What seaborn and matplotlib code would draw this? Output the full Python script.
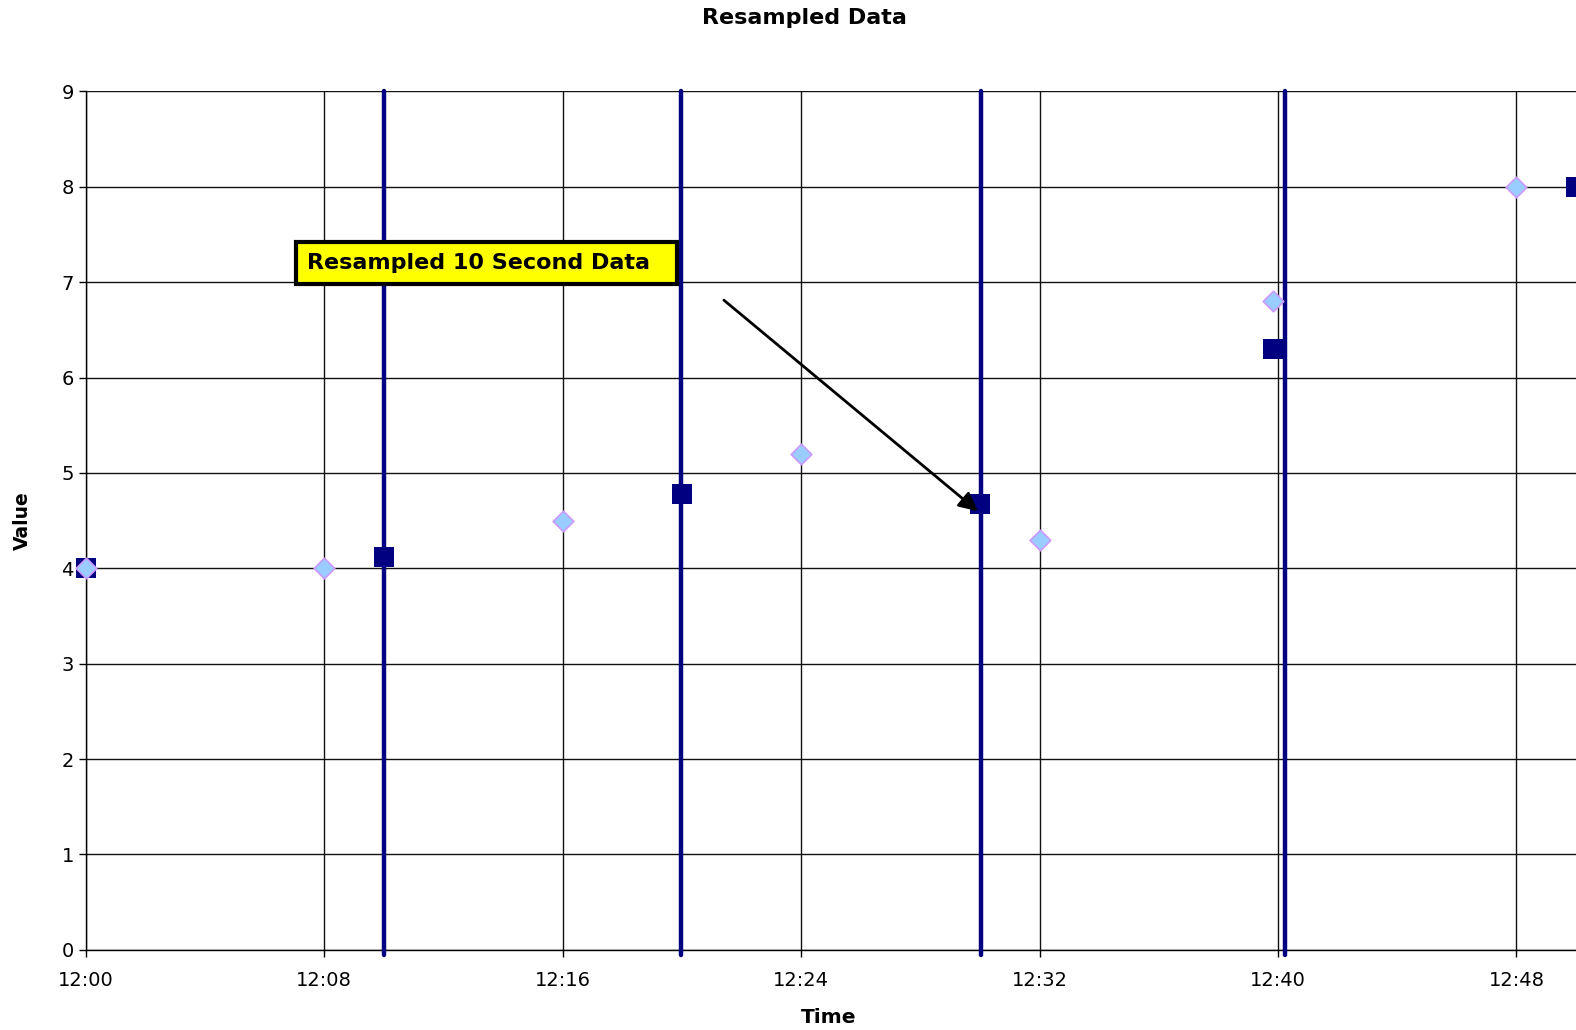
import pandas as pd
import numpy as np
import matplotlib.pyplot as plt
import seaborn as sns

sns.set_style('white')
plt.rcParams['font.family'] = ['DejaVu Sans']
plt.rcParams['text.color'] = 'black'
plt.rcParams['axes.labelcolor'] = 'black'
plt.rcParams['xtick.color'] = 'black'
plt.rcParams['ytick.color'] = 'black'

# data: minutes after 12:00
raw_min = [0, 8, 16, 24, 32, 39.85, 48]
raw_val = [4.0, 4.0, 4.5, 5.2, 4.3, 6.8, 8.0]
res_min = [0, 10, 20, 30, 39.85, 50]
res_val = [4.0, 4.12, 4.78, 4.67, 6.30, 8.0]
line_min = [10.0, 19.97, 30.05, 40.25]
tick_min = [0, 8, 16, 24, 32, 40, 48]
tick_lab = ['12:00', '12:08', '12:16', '12:24', '12:32', '12:40', '12:48']
y_ticks = [0, 1, 2, 3, 4, 5, 6, 7, 8, 9]

raw = pd.DataFrame({'t': raw_min, 'v': raw_val})
res = pd.DataFrame({'t': res_min, 'v': res_val})

fig = plt.figure(figsize=(15.76, 10.30), dpi=100)
ax = fig.add_axes([0.0544, 0.0779, 0.9456, 0.8333])

ax.grid(True, color='#111111', lw=1)
ax.set_axisbelow(True)

sns.scatterplot(data=res, x='t', y='v', marker='s', s=200, color='#000080',
                edgecolor='#000080', linewidth=0, zorder=3, clip_on=False, ax=ax)
ax.vlines(line_min, -0.05, 9, colors='#000080', lw=3.2, zorder=4,
          clip_on=False, capstyle='round')
sns.scatterplot(data=raw, x='t', y='v', marker='D', s=110, color='#99CCFF',
                edgecolor='#CC99FF', linewidth=1.2, zorder=5, clip_on=False, ax=ax)

ax.set_xlim(0, 50)
ax.set_ylim(0, 9)
ax.set_xticks(tick_min)
ax.set_xticklabels(tick_lab)
ax.set_yticks(y_ticks)
ax.tick_params(axis='both', labelsize=14, length=5, width=1, color='black',
               labelcolor='black', direction='out', bottom=True, left=True)
ax.tick_params(axis='x', pad=10)
for s in ['top', 'right']:
    ax.spines[s].set_visible(False)
for s in ['left', 'bottom']:
    ax.spines[s].set_color('black')
    ax.spines[s].set_linewidth(1)

ax.set_xlabel('Time', fontsize=14.5, fontweight='bold')
ax.set_ylabel('Value', fontsize=13.5, fontweight='bold')
ax.xaxis.label.set_va('center')
ax.yaxis.label.set_va('center')
ax.xaxis.set_label_coords(0.4988, -0.0795)
ax.yaxis.set_label_coords(-0.0427, 0.5)
fig.text(0.5106, 0.983, 'Resampled Data', ha='center', va='center',
         fontsize=16, fontweight='bold', color='black')

ax.text(7.44, 7.20, 'Resampled 10 Second Data  ', fontsize=16, fontweight='bold',
        ha='left', va='center', zorder=6, color='black',
        bbox=dict(boxstyle='square,pad=0.5', fc='yellow', ec='black', lw=3))
ax.annotate('', xy=(30.0, 4.58), xytext=(21.34, 6.83),
            arrowprops=dict(arrowstyle='-|>', color='black', lw=2,
                            mutation_scale=28), zorder=6)

plt.savefig('out.png', dpi=100)
